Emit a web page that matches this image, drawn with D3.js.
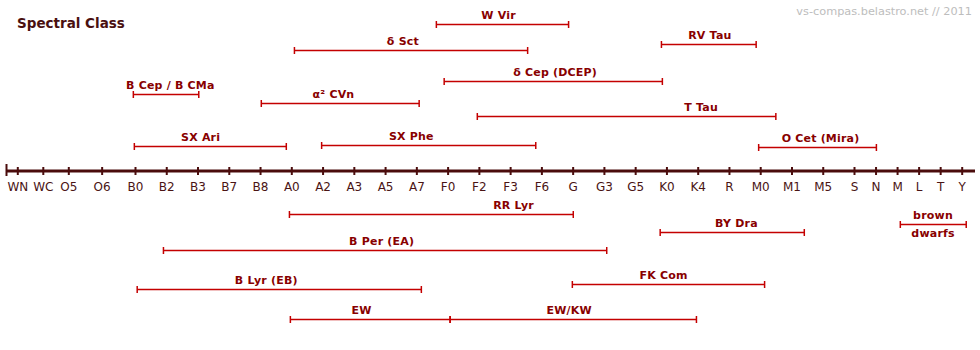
<!DOCTYPE html>
<html>
<head>
<meta charset="utf-8">
<script src="https://cdn.jsdelivr.net/npm/d3@7"></script>
<style>
  html, body { margin: 0; padding: 0; background: #fff; }
  svg { display: block; }
  text { font-family: "DejaVu Sans", Verdana, sans-serif; }
</style>
</head>
<body>
<svg id="chart" width="980" height="350"></svg>
<script>
// Spectral classes along the axis (tick labels)
const classes = ["WN","WC","O5","O6","B0","B2","B3","B7","B8","A0","A2","A3","A5","A7",
  "F0","F2","F3","F6","G","G3","G5","K0","K4","R","M0","M1","M5","S","N","M","L","T","Y"];

// Variable star types: range in spectral-class index units
const varNames   = ["W Vir","RV Tau","δ Sct","δ Cep (DCEP)","B Cep / B CMa","α² CVn","T Tau",
  "SX Ari","SX Phe","O Cet (Mira)","RR Lyr","brown\ndwarfs","BY Dra","B Per (EA)","FK Com",
  "B Lyr (EB)","EW","EW/KW"];
const varFrom    = [13.64, 20.84, 9.10, 13.89, 3.95, 8.04, 14.95, 3.98, 9.97, 23.95,
  8.94, 29.15, 20.80, 4.91, 17.99, 4.07, 8.97, 14.08];
const varTo      = [17.87, 23.87, 16.56, 20.87, 6.04, 13.09, 24.50, 8.84, 16.82, 28.04,
  18.02, 32.21, 25.41, 19.09, 24.14, 13.16, 14.08, 21.96];
const varLabelAt = [15.63, 22.39, 12.57, 17.44, 5.13, 10.35, 22.11, 6.10, 12.84, 25.93,
  16.11, 30.67, 23.24, 11.89, 20.91, 8.20, 11.25, 17.89];
// lane: row above (+) or below (-) the axis
const varLane    = [14.7, 12.7, 12.1, 9.0, 7.7, 6.8, 5.5, 2.55, 2.6, 2.4,
  -4.3, -5.3, -6.1, -7.9, -11.3, -11.8, -14.8, -14.8];

const title = "Spectral Class";
const credit = "vs-compas.belastro.net // 2011";

const svg = d3.select("#chart");
const W = 980, H = 350;

// piecewise-linear x scale over class index
const x = d3.scaleLinear()
  .domain([0, 2, 4, 27, 32])
  .range([17.3, 68.3, 135, 854, 961.7]);
const axisY = 171;
const y = d3.scaleLinear().domain([0, 10]).range([axisY, axisY - 100]);

const axisColor = "#4b0c0c";
const barColor = "#c40000";
const labelColor = "#880000";

// title & credit
svg.append("text").attr("x", 17).attr("y", 28.3)
  .attr("font-size", "13.5px").attr("font-weight", "bold")
  .attr("fill", "#4a1010").text(title);
svg.append("text").attr("x", 972).attr("y", 14.5)
  .attr("text-anchor", "end").attr("font-size", "11.3px")
  .attr("fill", "#bdbdbd").text(credit);

// axis
const axisG = svg.append("g").attr("transform", `translate(0,${axisY})`);
axisG.append("line").attr("x1", 6).attr("x2", 975).attr("y1", 0).attr("y2", 0)
  .attr("stroke", axisColor).attr("stroke-width", 3.2);
axisG.append("line").attr("x1", 6.5).attr("x2", 6.5).attr("y1", -7).attr("y2", 5)
  .attr("stroke", axisColor).attr("stroke-width", 2);

const axis = d3.axisBottom(x)
  .tickValues(d3.range(classes.length))
  .tickFormat(i => classes[i])
  .tickSizeOuter(0);
const ag = axisG.append("g").call(axis);
ag.select(".domain").remove();
ag.selectAll(".tick line")
  .attr("y1", -4).attr("y2", 4)
  .attr("stroke", axisColor).attr("stroke-width", 2);
ag.selectAll(".tick text")
  .attr("y", 19.5).attr("dy", 0)
  .attr("fill", "#4a1414")
  .attr("font-size", "12px")
  .attr("font-family", "'DejaVu Sans', Verdana, sans-serif");

// variable ranges
const data = varNames.map((n, i) => ({
  name: n, from: varFrom[i], to: varTo[i], at: varLabelAt[i], lane: varLane[i]
}));

const g = svg.append("g");
const items = g.selectAll("g.var").data(data).join("g").attr("class", "var");

items.append("line")
  .attr("x1", d => x(d.from)).attr("x2", d => x(d.to))
  .attr("y1", d => Math.round(y(d.lane)) + 0.5).attr("y2", d => Math.round(y(d.lane)) + 0.5)
  .attr("stroke", barColor).attr("stroke-width", 1.4);
items.selectAll("line.cap").data(d => [d.from, d.to].map(v => ({v, lane: d.lane})))
  .join("line").attr("class", "cap")
  .attr("x1", c => x(c.v)).attr("x2", c => x(c.v))
  .attr("y1", c => Math.round(y(c.lane)) + 0.5 - 3.5)
  .attr("y2", c => Math.round(y(c.lane)) + 0.5 + 3.5)
  .attr("stroke", barColor).attr("stroke-width", 1.5);

items.each(function(d) {
  const lines = d.name.split("\n");
  const by = Math.round(y(d.lane)) + 0.5;
  const sel = d3.select(this);
  sel.append("text")
    .attr("x", x(d.at)).attr("y", by - 6)
    .attr("text-anchor", "middle")
    .attr("font-size", "11px").attr("font-weight", "bold")
    .attr("letter-spacing", "0.2px")
    .attr("fill", labelColor).text(lines[0]);
  if (lines.length > 1) {
    sel.append("text")
      .attr("x", x(d.at)).attr("y", by + 12)
      .attr("text-anchor", "middle")
      .attr("font-size", "11px").attr("font-weight", "bold")
      .attr("letter-spacing", "0.2px")
      .attr("fill", labelColor).text(lines[1]);
  }
});
</script>
</body>
</html>
